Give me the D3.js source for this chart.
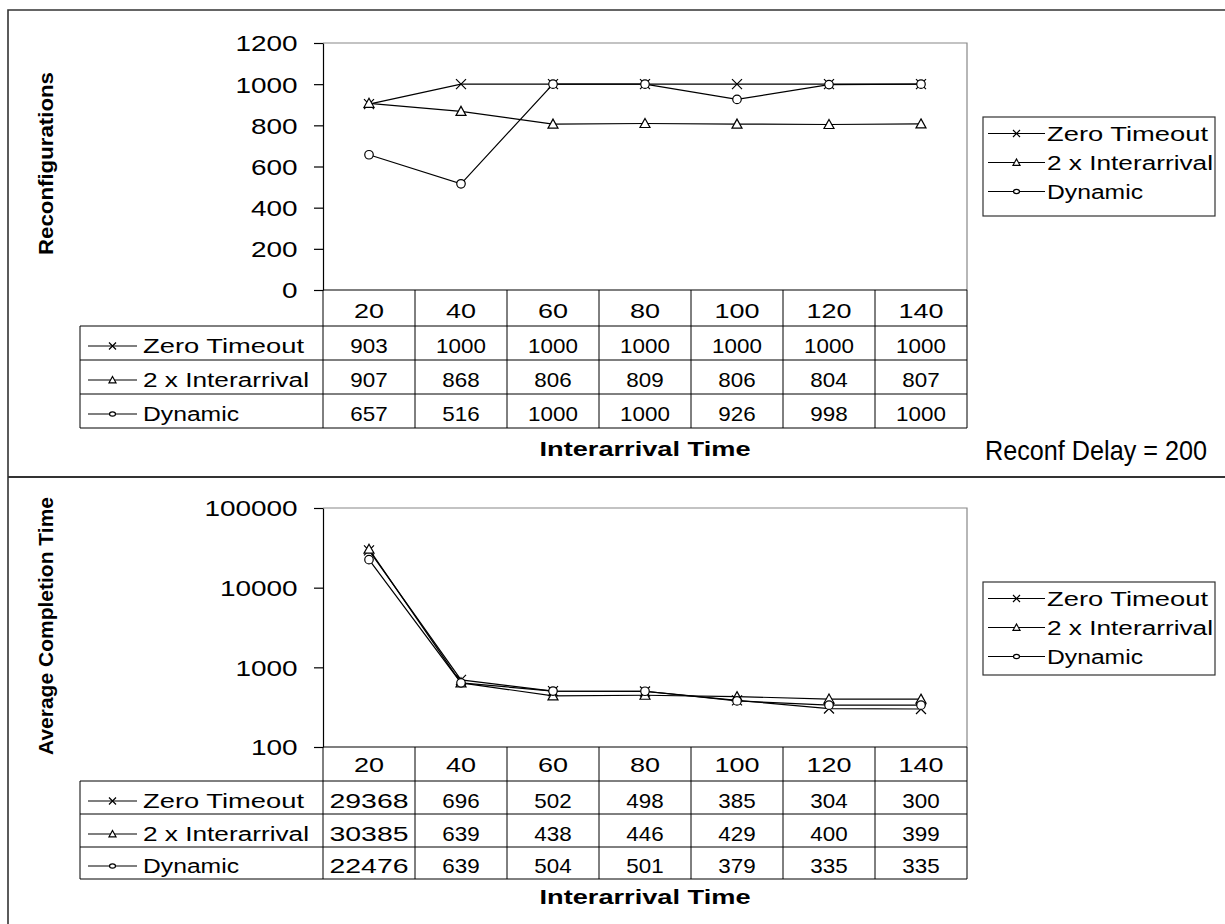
<!DOCTYPE html>
<html><head><meta charset="utf-8">
<script src="https://cdn.jsdelivr.net/npm/d3@7"></script>
<style>
body{margin:0;background:#fff}
svg{display:block}
text{font-family:"Liberation Sans",Arial,Helvetica,sans-serif;fill:#000}
</style>
</head><body>
<svg id="c" width="1225" height="924"></svg>
<script>
// ---------- data ----------
const categories = ["20","40","60","80","100","120","140"];
const seriesNames = ["Zero Timeout","2 x Interarrival","Dynamic"];
const markerTypes = ["cross","triangle","circle"];
const reconfZero = [903,1000,1000,1000,1000,1000,1000];
const reconfTwoX = [907,868,806,809,806,804,807];
const reconfDynamic = [657,516,1000,1000,926,998,1000];
const compZero = [29368,696,502,498,385,304,300];
const compTwoX = [30385,639,438,446,429,400,399];
const compDynamic = [22476,639,504,501,379,335,335];
const reconfTicks = [0,200,400,600,800,1000,1200];
const compTicks = [100,1000,10000,100000];
const yTitleTop = "Reconfigurations";
const yTitleBottom = "Average Completion Time";
const xTitle = "Interarrival Time";
const note = "Reconf Delay = 200";

// ---------- drawing ----------
const svg = d3.select("#c");
const X0 = 323, X1 = 967;
const x = d3.scaleBand().domain(categories).range([X0, X1]);
const cx = c => x(c) + x.bandwidth()/2;
const labelWidths = [161, 166, 96];

svg.append("path").attr("d","M8,924 L8,10 L1225,10").attr("fill","none").attr("stroke","#333").attr("stroke-width",1.6);
svg.append("line").attr("x1",8).attr("x2",1225).attr("y1",477).attr("y2",477).attr("stroke","#333").attr("stroke-width",2);

function marker(g, type, px, py, s, small){
  if(type==="cross"){
    g.append("path").attr("d",`M${px-s},${py-s}L${px+s},${py+s}M${px-s},${py+s}L${px+s},${py-s}`)
      .attr("stroke","#000").attr("stroke-width",1.2).attr("fill","none");
  } else if(type==="triangle"){
    g.append("path").attr("d",`M${px},${py-s}L${px+s},${py+s*0.8}L${px-s},${py+s*0.8}Z`)
      .attr("stroke","#000").attr("stroke-width",1.2).attr("fill","#fff");
  } else {
    g.append("ellipse").attr("cx",px).attr("cy",py).attr("rx",s*0.85).attr("ry",small? s*0.6 : s*0.85)
      .attr("stroke","#000").attr("stroke-width",1.2).attr("fill","#fff");
  }
}

function panel(cfg){
  const g = svg.append("g");
  const y = cfg.y;
  g.append("path").attr("d",`M${X0},${cfg.top}H${X1}V${cfg.bottom}`).attr("fill","none").attr("stroke","#888").attr("stroke-width",1.2);
  const ax = g.append("g").attr("transform",`translate(${X0},0)`)
    .call(d3.axisLeft(y).tickValues(cfg.ticks).tickFormat(d=>String(d)).tickSize(9).tickSizeOuter(0).tickPadding(11));
  ax.select(".domain").attr("stroke","#000").attr("stroke-width",1.2);
  ax.selectAll(".tick line").attr("stroke","#000").attr("stroke-width",1.2);
  ax.selectAll(".tick text").attr("font-size",22).attr("font-family",'"Liberation Sans",Arial,sans-serif')
    .attr("dy","0.36em").attr("transform","scale(1.27,1)").attr("fill","#000");
  g.append("text").attr("transform",`translate(53,${cfg.yTitleY}) rotate(-90)`)
    .attr("text-anchor","middle").attr("font-weight","bold").attr("font-size",21)
    .attr("textLength",cfg.yTitleLen).attr("lengthAdjust","spacingAndGlyphs").text(cfg.yTitle);
  const line = d3.line().x((d,i)=>cx(categories[i])).y(d=>y(d));
  cfg.series.forEach(s=>{
    g.append("path").attr("d",line(s)).attr("fill","none").attr("stroke","#000").attr("stroke-width",1.2);
  });
  cfg.series.forEach((s,k)=>{
    s.forEach((v,i)=>marker(g, markerTypes[k], cx(categories[i]), y(v), 5, false));
  });
  g.append("line").attr("x1",X0).attr("x2",X1).attr("y1",cfg.bottom).attr("y2",cfg.bottom).attr("stroke","#000").attr("stroke-width",1.2);

  const rows = cfg.rows;
  const tb = g.append("g").attr("stroke","#000").attr("stroke-width",1);
  rows.forEach(ry=>tb.append("line").attr("x1",80).attr("x2",X1).attr("y1",ry).attr("y2",ry));
  tb.append("line").attr("x1",80).attr("x2",80).attr("y1",rows[0]).attr("y2",rows[rows.length-1]);
  categories.forEach(c=>tb.append("line").attr("x1",x(c)).attr("x2",x(c)).attr("y1",cfg.bottom).attr("y2",rows[rows.length-1]));
  tb.append("line").attr("x1",X1).attr("x2",X1).attr("y1",cfg.bottom).attr("y2",rows[rows.length-1]);
  categories.forEach(c=>{
    g.append("text").attr("transform",`translate(${cx(c)},${cfg.headerBase}) scale(1.35,1)`)
      .attr("text-anchor","middle").attr("font-size",20).text(c);
  });
  cfg.series.forEach((s,k)=>{
    const base = rows[k+1] - cfg.rowPad;
    const my = base - 7;
    g.append("line").attr("x1",88).attr("x2",137).attr("y1",my).attr("y2",my).attr("stroke","#000").attr("stroke-width",1.2);
    marker(g, markerTypes[k], 112.5, my, 3.5, true);
    g.append("text").attr("x",143).attr("y",base).attr("font-size",20)
      .attr("textLength",labelWidths[k]).attr("lengthAdjust","spacingAndGlyphs").text(seriesNames[k]);
    s.forEach((v,i)=>{
      const t = String(v);
      const sc = t.length>=5 ? 1.42 : 1.12;
      g.append("text").attr("transform",`translate(${cx(categories[i])},${base}) scale(${sc},1)`)
        .attr("text-anchor","middle").attr("font-size",20).text(t);
    });
  });
  g.append("text").attr("x",(X0+X1)/2).attr("y",cfg.xTitleBase).attr("text-anchor","middle")
    .attr("font-weight","bold").attr("font-size",20).attr("textLength",211).attr("lengthAdjust","spacingAndGlyphs").text(xTitle);

  const lg = g.append("g");
  lg.append("rect").attr("x",983).attr("y",cfg.legTop).attr("width",232).attr("height",cfg.legH)
    .attr("fill","#fff").attr("stroke","#333").attr("stroke-width",1.2);
  seriesNames.forEach((n,k)=>{
    const base = cfg.legTop + 23.5 + k*29;
    const my = base - 7;
    lg.append("line").attr("x1",988).attr("x2",1045).attr("y1",my).attr("y2",my).attr("stroke","#000").attr("stroke-width",1.2);
    marker(lg, markerTypes[k], 1016.5, my, 3.5, true);
    lg.append("text").attr("x",1047).attr("y",base).attr("font-size",20)
      .attr("textLength",labelWidths[k]).attr("lengthAdjust","spacingAndGlyphs").text(n);
  });
}

panel({
  y: d3.scaleLinear().domain([0,1200]).range([290,43]),
  top:43, bottom:290, ticks:reconfTicks,
  yTitle:yTitleTop, yTitleY:163.5, yTitleLen:183,
  series:[reconfZero, reconfTwoX, reconfDynamic],
  rows:[326,360,394,428], headerBase:318, rowPad:7,
  xTitleBase:456, legTop:117, legH:99
});
panel({
  y: d3.scaleLog().domain([100,100000]).range([747,508]),
  top:508, bottom:747, ticks:compTicks,
  yTitle:yTitleBottom, yTitleY:626, yTitleLen:258,
  series:[compZero, compTwoX, compDynamic],
  rows:[781,814,847,879], headerBase:772, rowPad:6,
  xTitleBase:904, legTop:582, legH:93
});

svg.append("text").attr("transform","translate(1207,460) scale(0.9,1)").attr("text-anchor","end")
  .attr("font-size",28).text(note);
</script>
</body></html>
